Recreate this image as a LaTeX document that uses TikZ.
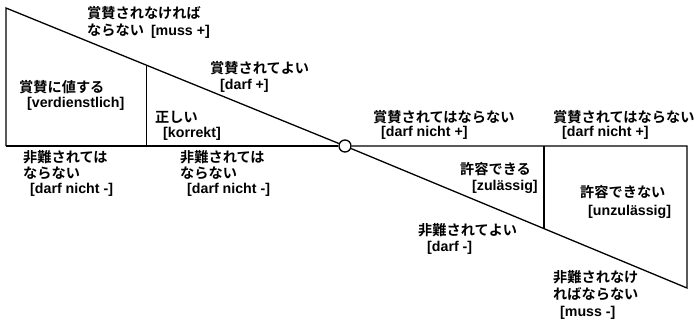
\documentclass[tikz,border=0pt]{standalone}
\usepackage{fontspec}
\setmainfont{Liberation Sans}[BoldFont={Liberation Sans Bold}]
\newfontfamily\cjk{Noto Sans CJK JP}[BoldFont={Noto Sans CJK JP Bold}]
\begin{document}
\begin{tikzpicture}[x=1pt,y=-1pt,
  lbl/.style={anchor=west,inner sep=0pt,font=\fontsize{14.2}{16}\selectfont\bfseries\cjk},
  lat/.style={anchor=west,inner sep=0pt,font=\fontsize{14.2}{16}\selectfont\bfseries},
  ln/.style={line width=1.3pt}]
\useasboundingbox (0,0) rectangle (695,322);
\coordinate (TL) at (6,8);
\coordinate (BL) at (6,146);
\coordinate (TR) at (687,146);
\coordinate (BR) at (687,288);
\coordinate (M1t) at (146.5,65);
\coordinate (M1b) at (146.5,146);
\coordinate (M2t) at (544,146);
\coordinate (M2b) at (544,228.6);
\node[circle,draw,line width=1.3pt,fill=white,minimum size=12pt,inner sep=0pt] (O) at (345,146) {};
\draw[ln] (BL) -- (TL) -- (O);
\draw[ln] (BL) -- (O.west);
\draw[ln] (O) -- (BR) -- (TR) -- (O.east);
\draw[ln] (M1t) -- (M1b);
\draw[ln] (M2t) -- (M2b);
% upper left texts
\node[lbl] (a1) at (87,13) {賞賛されなければ};
\node[lbl] (a2) at (87,31) {ならない\hspace{7pt}{\rmfamily[muss +]}};
\node[lbl] (b1) at (210,68) {賞賛されてよい};
\node[lat] (b2) at (220,86) {[darf +]};
\node[lbl] (c1) at (19,87) {賞賛に値する};
\node[lat] (c2) at (27,104) {[verdienstlich]};
\node[lbl] (d1) at (155,117) {正しい};
\node[lat] (d2) at (163,134) {[korrekt]};
\node[lbl] (e1) at (23,157) {非難されては};
\node[lbl] (e2) at (23,173) {ならない};
\node[lat] (e3) at (30,190) {[darf nicht -]};
\node[lbl] (f1) at (180,157) {非難されては};
\node[lbl] (f2) at (180,173) {ならない};
\node[lat] (f3) at (187,190) {[darf nicht -]};
% right texts
\node[lbl] (g1) at (373,117) {賞賛されてはならない};
\node[lat] (g2) at (381,133) {[darf nicht +]};
\node[lbl] (h1) at (553,117) {賞賛されてはならない};
\node[lat] (h2) at (562,133) {[darf nicht +]};
\node[lbl] (i1) at (460,169) {許容できる};
\node[lat] (i2) at (472,187) {[zulässig]};
\node[lbl] (j1) at (580,192) {許容できない};
\node[lat] (j2) at (588,212) {[unzulässig]};
\node[lbl] (k1) at (418,230) {非難されてよい};
\node[lat] (k2) at (427,248) {[darf -]};
\node[lbl] (l1) at (553,277) {非難されなけ};
\node[lbl] (l2) at (553,294) {ればならない};
\node[lat] (l3) at (560,313) {[muss -]};
\end{tikzpicture}
\end{document}
